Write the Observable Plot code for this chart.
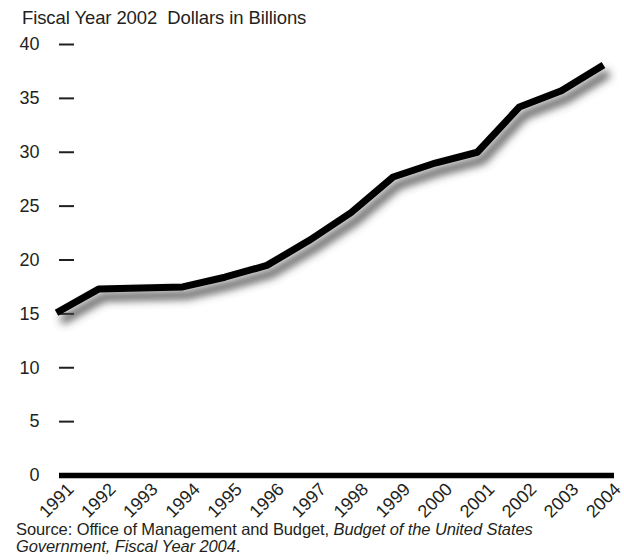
<!DOCTYPE html>
<html><head><meta charset="utf-8">
<script src="https://cdn.jsdelivr.net/npm/d3@7"></script>
<script src="https://cdn.jsdelivr.net/npm/@observablehq/plot@0.6"></script>
<style>
body{margin:0;background:#fff;font-family:"Liberation Sans",Arial,Helvetica,sans-serif;color:#231f20}
#wrap{position:relative;width:624px;height:560px;overflow:hidden}
#title{position:absolute;left:22px;top:8px;font-size:18.5px;white-space:pre;line-height:20px;letter-spacing:-0.1px}
#chart{position:absolute;left:0;top:0}
#caption{position:absolute;left:16px;top:521px;font-size:16.5px;line-height:17px;white-space:nowrap;letter-spacing:-0.1px}
</style></head><body>
<div id="wrap"><div id="chart"></div><div id="title"></div><div id="caption"></div></div>
<script>
const years = [1991,1992,1993,1994,1995,1996,1997,1998,1999,2000,2001,2002,2003,2004];
const outlays = [15.1,17.3,17.4,17.5,18.4,19.5,21.8,24.4,27.7,29.0,30.0,34.2,35.7,38.1];
const yTicks = [0,5,10,15,20,25,30,35,40];
const yearLabels = years.map(String);
const titleText = "Fiscal Year 2002  Dollars in Billions";
const sourceText = "Source: Office of Management and Budget, ";
const sourceItalic1 = "Budget of the United States";
const sourceItalic2 = "Government, Fiscal Year 2004";

const data = years.map((year, i) => ({year, value: outlays[i]}));
const font = '"Liberation Sans",Arial,Helvetica,sans-serif';

const chart = Plot.plot({
  width: 624, height: 520,
  marginLeft: 59, marginRight: 10, marginTop: 0, marginBottom: 0,
  x: {domain: [1991, 2004], range: [56, 603], axis: null},
  y: {domain: [0, 40], range: [475, 44], ticks: yTicks, tickSize: 0, tickPadding: 20, label: null, tickFormat: d => String(d)},
  style: {fontFamily: font, fontSize: "18px", color: "#231f20", background: "transparent", overflow: "visible"},
  marks: [
    Plot.tickY(yTicks.filter(d => d > 0), {y: d => d, insetRight: 540, stroke: "#231f20", strokeWidth: 2}),
    Plot.line(data, {x: "year", y: "value", stroke: "#444", strokeOpacity: 0.9, strokeWidth: 8, dx: 5, dy: 8, strokeLinejoin: "miter", strokeLinecap: "butt"}),
    Plot.line(data, {x: "year", y: "value", stroke: "#000", strokeWidth: 7, strokeLinejoin: "miter", strokeLinecap: "butt"}),
    Plot.ruleY([0], {stroke: "#000", strokeWidth: 5.5}),
    Plot.text(yearLabels, {x: d => +d, y: () => 0, text: d => d, rotate: -45, dy: 25, textAnchor: "middle", fontSize: 18, fill: "#231f20"})
  ]
});

const svg = d3.select(chart);
const defs = svg.insert("defs", ":first-child");
const f = defs.append("filter").attr("id", "shadow").attr("x", "-10%").attr("y", "-10%").attr("width", "120%").attr("height", "130%");
f.append("feGaussianBlur").attr("stdDeviation", 4);
const lines = svg.selectAll('g[aria-label="line"]').nodes();
if (lines.length) lines[0].setAttribute("filter", "url(#shadow)");

document.getElementById("chart").appendChild(chart);
document.getElementById("title").textContent = titleText;
const cap = document.getElementById("caption");
cap.append(sourceText);
const i1 = document.createElement("i"); i1.textContent = sourceItalic1; cap.append(i1);
cap.append(document.createElement("br"));
const i2 = document.createElement("i"); i2.textContent = sourceItalic2; cap.append(i2);
cap.append(".");
</script>
</body></html>
